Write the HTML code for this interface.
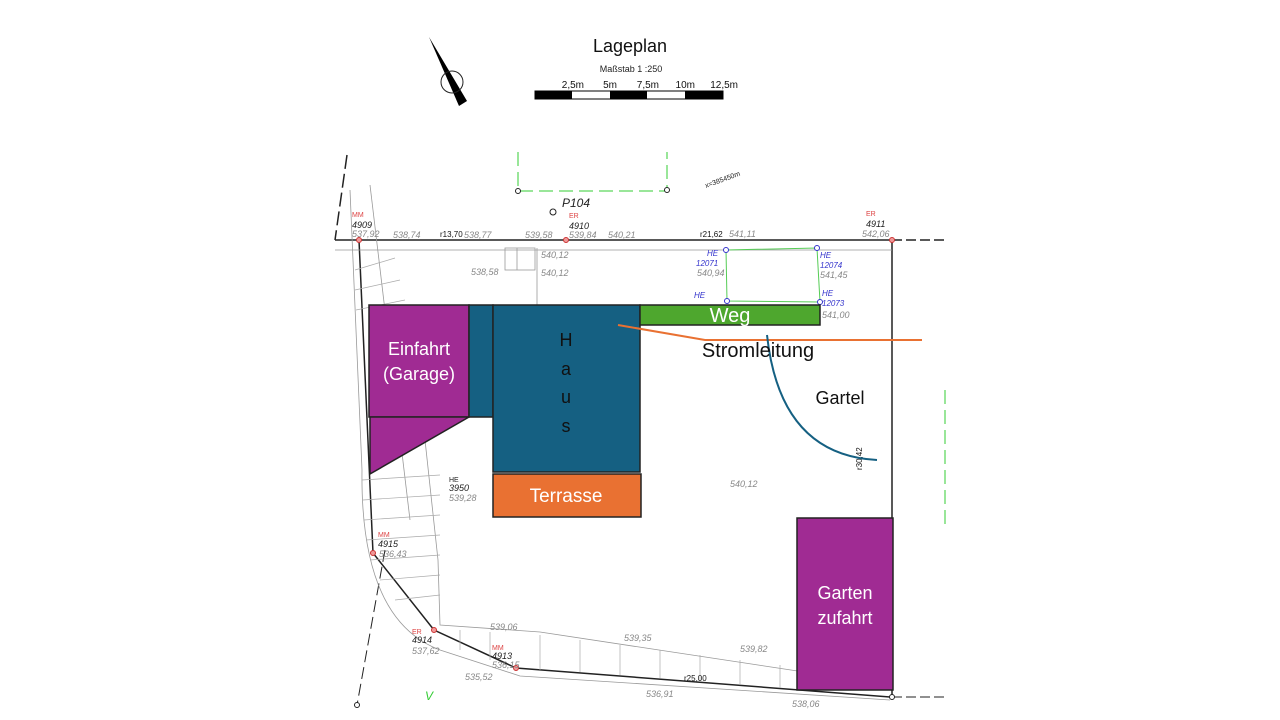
<!DOCTYPE html>
<html><head><meta charset="utf-8"><style>
html,body{margin:0;padding:0;background:#fff}
svg{display:block}
text{font-family:"Liberation Sans",sans-serif}
.g{fill:#888;font-size:9px;font-style:italic}
.k{fill:#222;font-size:9px;font-style:italic}
.r{fill:#d44;font-size:7px}
.b{fill:#33c;font-size:8px;font-style:italic}
</style></head><body>
<svg width="1280" height="720" viewBox="0 0 1280 720">
<text x="630" y="52" font-size="18" text-anchor="middle" fill="#111">Lageplan</text>
<text x="631" y="72" font-size="9" text-anchor="middle" fill="#222">Maßstab 1 :250</text>
<g font-size="10" fill="#111" text-anchor="end">
<text x="584" y="88">2,5m</text><text x="617" y="88">5m</text><text x="659" y="88">7,5m</text><text x="695" y="88">10m</text><text x="738" y="88">12,5m</text></g>
<rect x="535" y="91" width="188" height="8" fill="#fff" stroke="#000"/>
<rect x="535" y="91" width="37" height="8" fill="#000"/>
<rect x="610" y="91" width="37" height="8" fill="#000"/>
<rect x="685" y="91" width="38" height="8" fill="#000"/>
<polygon points="429,37 467,101 459,106" fill="#000"/>
<circle cx="452" cy="82" r="11" fill="none" stroke="#222"/>
<g stroke="#222" fill="none">
<line x1="335" y1="240" x2="892" y2="240" stroke-width="1.5"/>
<line x1="892" y1="240" x2="945" y2="240" stroke-dasharray="10,4" stroke-width="1.5"/>
<line x1="347" y1="155" x2="335" y2="240" stroke-dasharray="14,5" stroke-width="1.5"/>
<polyline points="359,240 373,553 434,630 516,668 890,697" stroke-width="1.5"/>
<line x1="892" y1="240" x2="892" y2="697" stroke-width="1.5"/>
<line x1="385" y1="550" x2="357" y2="705" stroke-dasharray="12,5"/>
<line x1="892" y1="697" x2="945" y2="697" stroke-dasharray="10,4"/>
</g>
<g stroke="#999" fill="none" stroke-width="0.8">
<line x1="370" y1="185" x2="410" y2="520"/>
<line x1="335" y1="250" x2="892" y2="250"/>
<path d="M350,190 L362,470 Q360,620 440,650 L520,676 L890,700"/>
<path d="M425,440 L438,560 L440,625 L540,632 L890,685"/>
<line x1="517" y1="248" x2="517" y2="270"/><line x1="537" y1="248" x2="537" y2="305"/>
<rect x="505" y="248" width="30" height="22"/>
</g>
<g stroke="#aaa" stroke-width="0.7">
<line x1="355" y1="270" x2="395" y2="258"/><line x1="355" y1="290" x2="400" y2="280"/><line x1="356" y1="310" x2="405" y2="300"/>
<line x1="362" y1="480" x2="440" y2="475"/><line x1="363" y1="500" x2="440" y2="495"/><line x1="364" y1="520" x2="440" y2="515"/><line x1="366" y1="540" x2="440" y2="535"/><line x1="370" y1="560" x2="440" y2="555"/><line x1="380" y1="580" x2="440" y2="575"/><line x1="395" y1="600" x2="440" y2="595"/>
<line x1="460" y1="630" x2="460" y2="650"/><line x1="490" y1="632" x2="490" y2="660"/><line x1="540" y1="635" x2="540" y2="670"/><line x1="580" y1="640" x2="580" y2="672"/><line x1="620" y1="645" x2="620" y2="675"/><line x1="660" y1="650" x2="660" y2="678"/><line x1="700" y1="655" x2="700" y2="682"/><line x1="740" y1="660" x2="740" y2="685"/><line x1="780" y1="665" x2="780" y2="688"/>
</g>
<g stroke="#3c3" fill="none" stroke-dasharray="14,6">
<polyline points="518,152 518,191 667,191 667,152"/>
<line x1="945" y1="390" x2="945" y2="525"/>
</g>
<polygon points="726,250 817,248 820,302 727,301" fill="none" stroke="#5c5"/>
<g fill="#fff" stroke="#222"><circle cx="518" cy="191" r="2.5"/><circle cx="667" cy="190" r="2.5"/><circle cx="553" cy="212" r="3"/><circle cx="892" cy="697" r="2.5"/><circle cx="357" cy="705" r="2.5"/></g>
<g fill="#e99" stroke="#c33"><circle cx="359" cy="240" r="2.5"/><circle cx="566" cy="240" r="2.5"/><circle cx="892" cy="240" r="2.5"/><circle cx="373" cy="553" r="2.5"/><circle cx="434" cy="630" r="2.5"/><circle cx="516" cy="668" r="2.5"/></g>
<g fill="#fff" stroke="#33c"><circle cx="726" cy="250" r="2.5"/><circle cx="817" cy="248" r="2.5"/><circle cx="727" cy="301" r="2.5"/><circle cx="820" cy="302" r="2.5"/></g>
<text x="562" y="207" font-size="12" font-style="italic" fill="#222">P104</text>
<text x="352" y="217" class="r">MM</text><text x="352" y="228" class="k">4909</text><text x="352" y="237" class="g">537,92</text>
<text x="569" y="218" class="r">ER</text><text x="569" y="229" class="k">4910</text><text x="569" y="238" class="g">539,84</text>
<text x="866" y="216" class="r">ER</text><text x="866" y="227" class="k">4911</text><text x="862" y="237" class="g">542,06</text>
<text x="393" y="238" class="g">538,74</text><text x="440" y="237" font-size="8" fill="#111">r13,70</text><text x="464" y="238" class="g">538,77</text><text x="525" y="238" class="g">539,58</text><text x="608" y="238" class="g">540,21</text>
<text x="700" y="237" font-size="8" fill="#111">r21,62</text><text x="729" y="237" class="g">541,11</text>
<text x="541" y="258" class="g">540,12</text><text x="541" y="276" class="g">540,12</text><text x="471" y="275" class="g">538,58</text>
<text x="707" y="256" class="b">HE</text><text x="696" y="266" class="b">12071</text><text x="697" y="276" class="g">540,94</text>
<text x="820" y="258" class="b">HE</text><text x="820" y="268" class="b">12074</text><text x="820" y="278" class="g">541,45</text>
<text x="694" y="298" class="b">HE</text><text x="822" y="296" class="b">HE</text><text x="822" y="306" class="b">12073</text><text x="822" y="318" class="g">541,00</text>
<text x="706" y="188" font-size="7" fill="#222" transform="rotate(-20 706 188)">x=385450m</text>
<text x="378" y="537" class="r">MM</text><text x="378" y="547" class="k">4915</text><text x="379" y="557" class="g">536,43</text>
<text x="412" y="634" class="r">ER</text><text x="412" y="643" class="k">4914</text><text x="412" y="654" class="g">537,62</text>
<text x="492" y="650" class="r">MM</text><text x="492" y="659" class="k">4913</text><text x="492" y="668" class="g">536,15</text>
<text x="465" y="680" class="g">535,52</text>
<text x="490" y="630" class="g">539,06</text><text x="624" y="641" class="g">539,35</text><text x="740" y="652" class="g">539,82</text>
<text x="646" y="697" class="g">536,91</text><text x="792" y="707" class="g">538,06</text><text x="684" y="681" font-size="8" fill="#111">r25,00</text>
<text x="449" y="482" font-size="7" fill="#222">HE</text><text x="449" y="491" class="k">3950</text><text x="449" y="501" class="g">539,28</text>
<text x="730" y="487" class="g">540,12</text><text x="425" y="700" font-size="12" font-style="italic" fill="#3c3">V</text>
<text x="882" y="450" font-size="8" fill="#111" transform="rotate(-90 882 470)">r30,42</text>
<rect x="369" y="305" width="100" height="112" fill="#a02b93" stroke="#222" stroke-width="1.5"/>
<polygon points="370,417 469,417 370,474" fill="#a02b93" stroke="#222" stroke-width="1.5"/>
<rect x="469" y="305" width="24" height="112" fill="#156082" stroke="#222" stroke-width="1.5"/>
<rect x="493" y="305" width="147" height="167" fill="#156082" stroke="#222" stroke-width="1.5"/>
<rect x="640" y="305" width="180" height="20" fill="#4ea72e" stroke="#222" stroke-width="1.5"/>
<rect x="493" y="474" width="148" height="43" fill="#e97132" stroke="#222" stroke-width="1.5"/>
<rect x="797" y="518" width="96" height="172" fill="#a02b93" stroke="#222" stroke-width="1.5"/>
<polyline points="618,325 705,340 922,340" fill="none" stroke="#e97132" stroke-width="2"/>
<path d="M767,335 Q780,455 877,460" fill="none" stroke="#156082" stroke-width="2"/>
<g font-size="18" text-anchor="middle">
<text x="419" y="355" fill="#fff">Einfahrt</text><text x="419" y="380" fill="#fff">(Garage)</text>
<text x="566" y="346" fill="#111">H</text><text x="566" y="375" fill="#111">a</text><text x="566" y="403" fill="#111">u</text><text x="566" y="432" fill="#111">s</text>
<text x="730" y="322" fill="#fff" font-size="20">Weg</text>
<text x="758" y="357" fill="#111" font-size="20">Stromleitung</text>
<text x="840" y="404" fill="#111">Gartel</text>
<text x="566" y="502" fill="#fff" font-size="19">Terrasse</text>
<text x="845" y="599" fill="#fff">Garten</text><text x="845" y="624" fill="#fff">zufahrt</text>
</g>
</svg>
</body></html>
